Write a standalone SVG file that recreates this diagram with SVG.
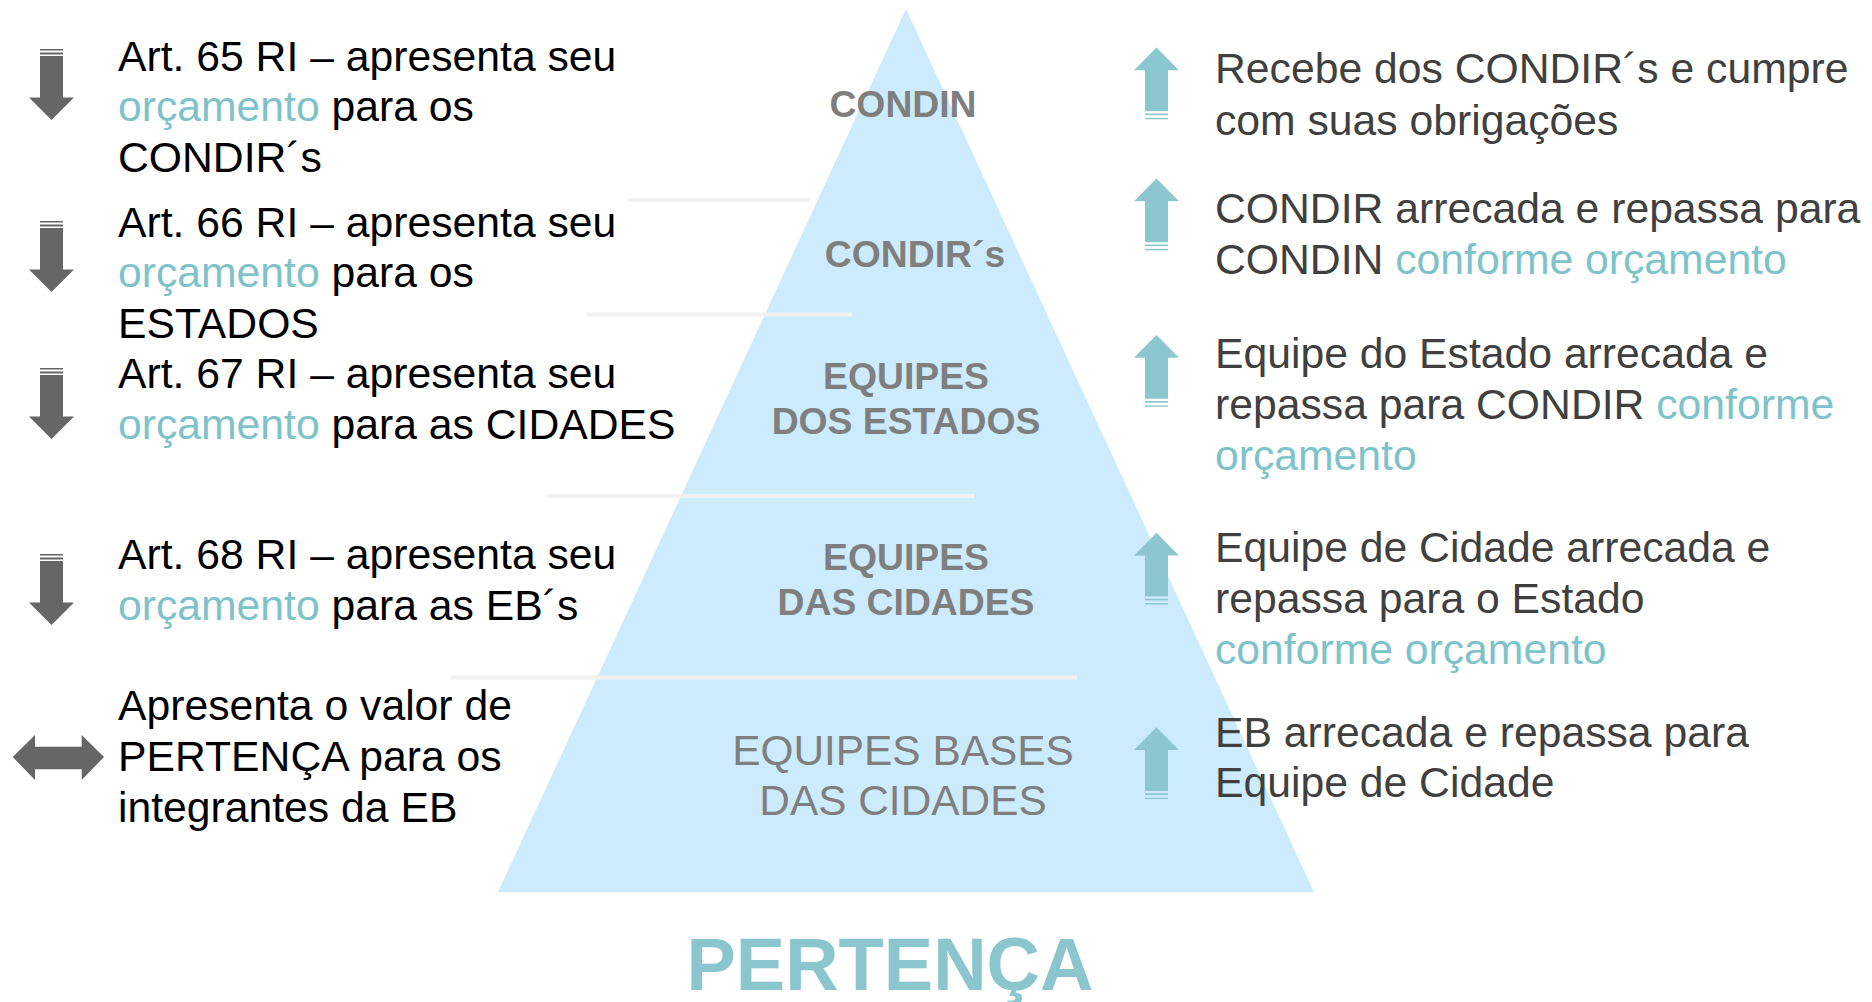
<svg xmlns="http://www.w3.org/2000/svg" xmlns:xlink="http://www.w3.org/1999/xlink" width="1872" height="1002" viewBox="0 0 1872 1002">
  <style>
    .lt { font-family: "Liberation Sans", Arial, sans-serif; font-size: 42.7px; fill: #000000; }
    .rt { font-family: "Liberation Sans", Arial, sans-serif; font-size: 42.7px; fill: #404040; }
    .hl { fill: #7EC3CA; }
    .lvl { font-family: "Liberation Sans", Arial, sans-serif; font-size: 37.3px; font-weight: bold; fill: #7F7F7F; text-anchor: middle; }
    .lvlr { font-family: "Liberation Sans", Arial, sans-serif; font-size: 42.4px; fill: #7F7F7F; text-anchor: middle; }
    .title { font-family: "Liberation Sans", Arial, sans-serif; font-size: 74px; font-weight: bold; fill: #8BC5CE; text-anchor: middle; }
    .sep { stroke: #F2F2F2; stroke-width: 4; fill: none; }
    .dark { fill: #666666; }
    .teal { fill: #8CC6CF; }
  </style>
  <defs>
    <g id="down">
      <rect class="dark" x="-11.5" y="0" width="23" height="1.5"/>
      <rect class="dark" x="-11.5" y="3.5" width="23" height="2"/>
      <rect class="dark" x="-11.5" y="7" width="23" height="42"/>
      <polygon class="dark" points="-22.5,48.5 22.5,48.5 0,71"/>
    </g>
    <g id="up">
      <polygon class="teal" points="0,0 22.5,22.7 -22.5,22.7"/>
      <rect class="teal" x="-11.5" y="22" width="23" height="41.7"/>
      <rect class="teal" x="-11.5" y="66" width="23" height="1.7"/>
      <rect class="teal" x="-11.5" y="70.4" width="23" height="1.4"/>
    </g>
  </defs>
  <rect x="0" y="0" width="1872" height="1002" fill="#FFFFFF"/>

  <g id="pyramid">
    <polygon points="906,9 498,892 1314,892" fill="#CCEBFC"/>
  </g>

  <g id="separators">
    <line class="sep" x1="628" y1="200" x2="810" y2="200"/>
    <line class="sep" x1="587" y1="314.5" x2="852" y2="314.5"/>
    <line class="sep" x1="547" y1="496" x2="975" y2="496"/>
    <line class="sep" x1="451" y1="677.5" x2="1077" y2="677.5"/>
  </g>

  <g id="level-condin">
    <text class="lvl" x="903" y="117">CONDIN</text>
  </g>
  <g id="level-condirs">
    <text class="lvl" x="915" y="267">CONDIR´s</text>
  </g>
  <g id="level-estados">
    <text class="lvl" x="906" y="389">EQUIPES</text>
    <text class="lvl" x="906" y="434">DOS ESTADOS</text>
  </g>
  <g id="level-cidades">
    <text class="lvl" x="906" y="570">EQUIPES</text>
    <text class="lvl" x="906" y="615">DAS CIDADES</text>
  </g>
  <g id="level-bases">
    <text class="lvlr" x="903" y="765">EQUIPES BASES</text>
    <text class="lvlr" x="903" y="815">DAS CIDADES</text>
  </g>

  <g id="title">
    <text class="title" x="890" y="990">PERTENÇA</text>
  </g>

  <g id="connectors">
    <use xlink:href="#down" href="#down" transform="translate(51.5,49)"/>
    <use xlink:href="#down" href="#down" transform="translate(51.5,221)"/>
    <use xlink:href="#down" href="#down" transform="translate(51.5,368)"/>
    <use xlink:href="#down" href="#down" transform="translate(51.5,554)"/>
    <polygon class="dark" points="12.7,757 35,735 35,746.7 81.7,746.7 81.7,735 104,757 81.7,780 81.7,769.3 35,769.3 35,780"/>
    <use xlink:href="#up" href="#up" transform="translate(1156.5,47.5)"/>
    <use xlink:href="#up" href="#up" transform="translate(1156.5,178.5)"/>
    <use xlink:href="#up" href="#up" transform="translate(1156.5,335)"/>
    <use xlink:href="#up" href="#up" transform="translate(1156.5,532.7)"/>
    <use xlink:href="#up" href="#up" transform="translate(1156.5,727.3)"/>
  </g>

  <g id="left-art65">
    <text class="lt" x="118" y="71">Art. 65 RI – apresenta seu</text>
    <text class="lt" x="118" y="121"><tspan class="hl">orçamento</tspan> para os</text>
    <text class="lt" x="118" y="172">CONDIR´s</text>
  </g>
  <g id="left-art66">
    <text class="lt" x="118" y="237">Art. 66 RI – apresenta seu</text>
    <text class="lt" x="118" y="287"><tspan class="hl">orçamento</tspan> para os</text>
    <text class="lt" x="118" y="338">ESTADOS</text>
  </g>
  <g id="left-art67">
    <text class="lt" x="118" y="388">Art. 67 RI – apresenta seu</text>
    <text class="lt" x="118" y="439"><tspan class="hl">orçamento</tspan> para as CIDADES</text>
  </g>
  <g id="left-art68">
    <text class="lt" x="118" y="569">Art. 68 RI – apresenta seu</text>
    <text class="lt" x="118" y="620"><tspan class="hl">orçamento</tspan> para as EB´s</text>
  </g>
  <g id="left-pertenca">
    <text class="lt" x="118" y="720">Apresenta o valor de</text>
    <text class="lt" x="118" y="771">PERTENÇA para os</text>
    <text class="lt" x="118" y="822">integrantes da EB</text>
  </g>

  <g id="right-condin">
    <text class="rt" x="1215" y="83">Recebe dos CONDIR´s e cumpre</text>
    <text class="rt" x="1215" y="135">com suas obrigações</text>
  </g>
  <g id="right-condir">
    <text class="rt" x="1215" y="223">CONDIR arrecada e repassa para</text>
    <text class="rt" x="1215" y="274">CONDIN <tspan class="hl">conforme orçamento</tspan></text>
  </g>
  <g id="right-estado">
    <text class="rt" x="1215" y="368">Equipe do Estado arrecada e</text>
    <text class="rt" x="1215" y="419">repassa para CONDIR <tspan class="hl">conforme</tspan></text>
    <text class="rt hl" x="1215" y="470">orçamento</text>
  </g>
  <g id="right-cidade">
    <text class="rt" x="1215" y="562">Equipe de Cidade arrecada e</text>
    <text class="rt" x="1215" y="613">repassa para o Estado</text>
    <text class="rt hl" x="1215" y="664">conforme orçamento</text>
  </g>
  <g id="right-eb">
    <text class="rt" x="1215" y="747">EB arrecada e repassa para</text>
    <text class="rt" x="1215" y="797">Equipe de Cidade</text>
  </g>
</svg>
